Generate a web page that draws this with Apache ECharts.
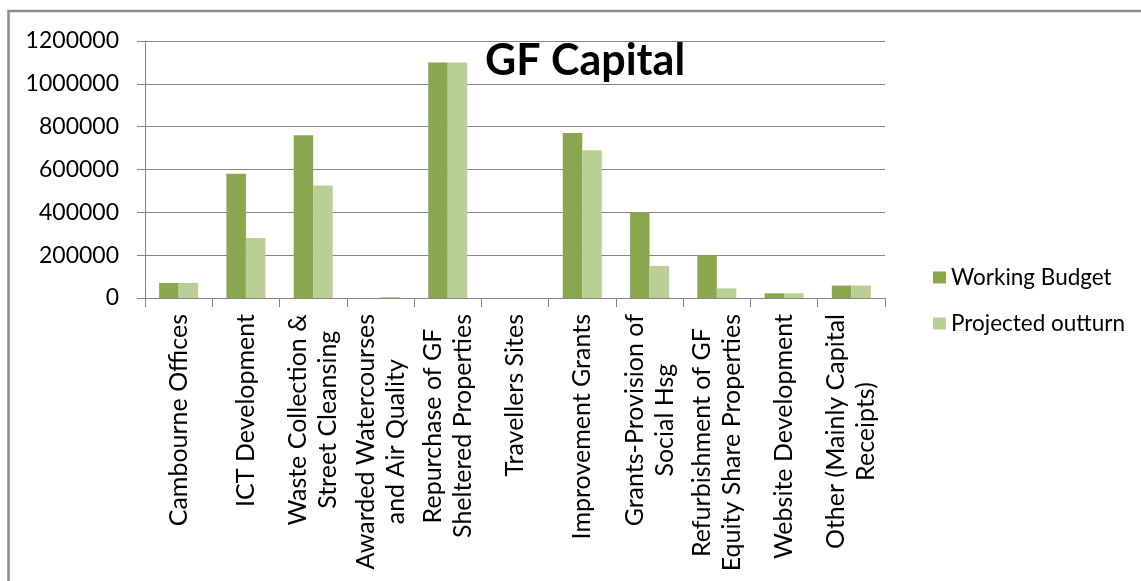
<!DOCTYPE html>
<html><head><meta charset="utf-8">
<script src="https://cdn.jsdelivr.net/npm/echarts@6/dist/echarts.min.js"></script>
<style>html,body{margin:0;padding:0;background:#fff}#c{width:1141px;height:581px}</style>
</head><body><div id="c"></div>
<script>
const categories = [
  "Cambourne Offices",
  "ICT Development",
  "Waste Collection &\nStreet Cleansing",
  "Awarded Watercourses\nand Air Quality",
  "Repurchase of GF\nSheltered Properties",
  "Travellers Sites",
  "Improvement Grants",
  "Grants-Provision of\nSocial Hsg",
  "Refurbishment of GF\nEquity Share Properties",
  "Website Development",
  "Other (Mainly Capital\nReceipts)"
];
const seriesNames = ["Working Budget", "Projected outturn"];
const workingBudget = [70000, 580000, 760000, 0, 1100000, 0, 770000, 400000, 200000, 22000, 58000];
const projectedOutturn = [70000, 280000, 525000, 5000, 1100000, 0, 690000, 150000, 45000, 22000, 58000];
const yMin = 0, yMax = 1200000, yStep = 200000;
const titleText = "GF Capital";

const FONT = 'Lato';
const chart = echarts.init(document.getElementById('c'));
chart.setOption({
  animation: false,
  title: {
    text: titleText, left: 480, top: 35,
    textStyle: { fontFamily: FONT, fontWeight: 'bold', fontSize: 43, color: '#000' }
  },
  graphic: [{
    type: 'polyline', silent: true,
    shape: { points: [[8.5, 581], [8.5, 11], [1141, 11]] },
    style: { stroke: '#8c8c8c', lineWidth: 2.5, fill: null }
  }],
  legend: {
    orient: 'vertical', left: 928, top: 261, itemWidth: 13, itemHeight: 12, itemGap: 23,
    icon: 'rect',
    textStyle: { fontFamily: FONT, fontSize: 22.5, color: '#000' },
    data: seriesNames
  },
  grid: { left: 145, right: 256, top: 41, bottom: 283, containLabel: false },
  xAxis: {
    type: 'category', data: categories,
    axisLine: { lineStyle: { color: '#868686', width: 1 } },
    axisTick: { show: true, length: 9, alignWithLabel: false, lineStyle: { color: '#868686' } },
    axisLabel: {
      interval: 0, rotate: 90, margin: 16, color: '#000',
      fontFamily: FONT, fontSize: 25,
      formatter: v => v.split('\n').map(l => '{c|' + l + '}').join('\n'),
      rich: { c: { align: 'center', fontFamily: FONT, fontSize: 25, lineHeight: 30, color: '#000' } }
    }
  },
  yAxis: {
    type: 'value', min: yMin, max: yMax, interval: yStep,
    axisLine: { show: true, lineStyle: { color: '#868686', width: 1 } },
    axisTick: { show: true, length: 8, lineStyle: { color: '#868686' } },
    splitLine: { lineStyle: { color: '#868686', width: 1 } },
    axisLabel: { margin: 26, color: '#000', fontFamily: FONT, fontSize: 23, formatter: v => String(v) }
  },
  series: [
    { name: seriesNames[0], type: 'bar', data: workingBudget, barGap: '0%', barCategoryGap: '42%',
      itemStyle: { color: '#8aa64e' } },
    { name: seriesNames[1], type: 'bar', data: projectedOutturn, barGap: '0%', barCategoryGap: '42%',
      itemStyle: { color: '#b9cf96' } }
  ]
});
</script></body></html>
